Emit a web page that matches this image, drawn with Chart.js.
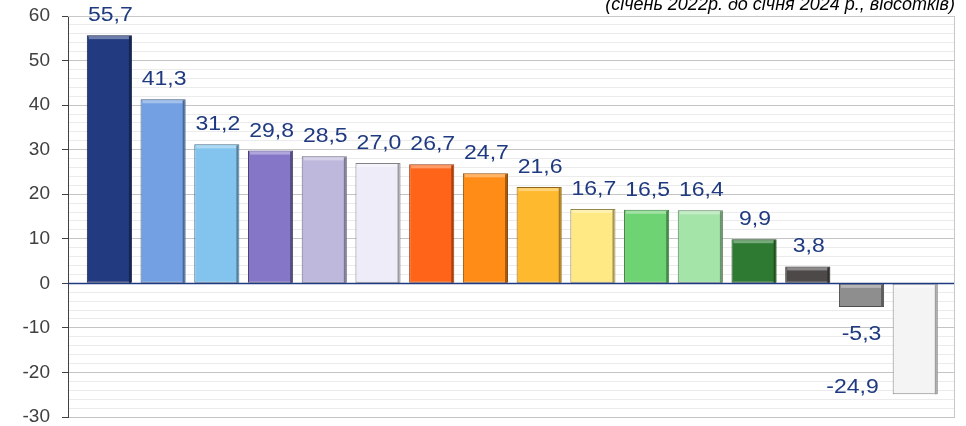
<!DOCTYPE html>
<html>
<head>
<meta charset="utf-8">
<script src="https://cdn.jsdelivr.net/npm/chart.js@4/dist/chart.umd.min.js"></script>
<style>
  html, body { margin: 0; padding: 0; background: #fff; }
  #wrap { width: 966px; height: 426px; }
</style>
</head>
<body>
<div id="wrap"><canvas id="myChart"></canvas></div>
<script>
// значення (відсотки)
const values = [55.7, 41.3, 31.2, 29.8, 28.5, 27.0, 26.7, 24.7, 21.6, 16.7, 16.5, 16.4, 9.9, 3.8, -5.3, -24.9];
const barColors = ['#213a80', '#72a0e2', '#83c4ee', '#8576c8', '#bfb8dd', '#eeecf8', '#ff6418', '#ff8c16', '#ffb92e',
  '#ffe985', '#6dd373', '#a4e4a8', '#2e7a33', '#4d4949', '#8e8e8e', '#f4f4f4'];
const yTicksMin = -30;
const yTicksMax = 60;
const subtitle = '(січень 2022р. до січня 2024 р., відсотків)';

const FONT = '"Liberation Sans", Arial, sans-serif';

function shade(hex, k) {
  const n = parseInt(hex.slice(1), 16);
  let r = n >> 16, g = (n >> 8) & 255, b = n & 255;
  if (k < 0) { r = r * (1 + k); g = g * (1 + k); b = b * (1 + k); }
  else { r = r + (255 - r) * k; g = g + (255 - g) * k; b = b + (255 - b) * k; }
  return `rgb(${Math.round(r)},${Math.round(g)},${Math.round(b)})`;
}

// text a bit wider than the font, like in the original picture
function wideText(ctx, txt, x, y, align) {
  const sx = 1.15;
  const w = ctx.measureText(txt).width * sx;
  let left = x;
  if (align === 'center') left = x - w / 2;
  if (align === 'right') left = x - w;
  ctx.save();
  ctx.translate(left, y);
  ctx.scale(sx, 1);
  ctx.textAlign = 'left';
  ctx.fillText(txt, 0, 0);
  ctx.restore();
}

const extras = {
  id: 'extras',
  afterDatasetsDraw(chart) {
    const { ctx, chartArea: a, scales: { y } } = chart;
    const meta = chart.getDatasetMeta(0);
    ctx.save();
    // bevel: light strip on top, dark strip on the right
    meta.data.forEach((bar, i) => {
      const left = bar.x - bar.width / 2, right = bar.x + bar.width / 2;
      const top = Math.min(bar.y, bar.base);
      ctx.fillStyle = shade(barColors[i], 0.35);
      ctx.fillRect(left + 2, top + 1, right - left - 4, 3);
      ctx.fillStyle = shade(barColors[i], -0.35);
      ctx.fillRect(right - 3, top + 1, 2, Math.abs(bar.base - bar.y) - 1);
    });
    // zero line
    const y0 = Math.round(y.getPixelForValue(0)) + 0.5;
    ctx.strokeStyle = '#1f3a80';
    ctx.lineWidth = 1.5;
    ctx.beginPath();
    ctx.moveTo(a.left, y0);
    ctx.lineTo(a.right, y0);
    ctx.stroke();
    // frame top/right
    ctx.strokeStyle = '#c8c8c8';
    ctx.lineWidth = 1;
    ctx.beginPath();
    ctx.moveTo(a.left, a.top + 0.5);
    ctx.lineTo(a.right - 0.5, a.top + 0.5);
    ctx.lineTo(a.right - 0.5, a.bottom);
    ctx.stroke();
    // value labels
    ctx.font = '20px ' + FONT;
    ctx.fillStyle = '#1f3a80';
    ctx.textBaseline = 'alphabetic';
    meta.data.forEach((bar, i) => {
      const v = values[i];
      const txt = v.toFixed(1).replace('.', ',');
      const left = bar.x - bar.width / 2;
      if (v >= 0) {
        wideText(ctx, txt, bar.x + 1, bar.y - 14, 'center');
      } else if (bar.y + 19 + 16 < a.bottom) {
        wideText(ctx, txt, bar.x, bar.y + 33, 'center');
      } else {
        wideText(ctx, txt, left - 14, bar.y - 1, 'right');
      }
    });
    // subtitle, cut at the top edge
    ctx.font = 'italic 18px ' + FONT;
    ctx.fillStyle = '#000';
    ctx.textAlign = 'right';
    ctx.fillText(subtitle, a.right, 10);
    ctx.restore();
  }
};

const ctx = document.getElementById('myChart');
new Chart(ctx, {
  type: 'bar',
  data: {
    datasets: [{
      data: values.map((v, i) => ({ x: i, y: v })),
      backgroundColor: barColors,
      borderColor: barColors.map(c => shade(c, -0.45)),
      borderWidth: 1,
      borderSkipped: false,
      barPercentage: 0.84,
      categoryPercentage: 1
    }]
  },
  options: {
    responsive: true,
    maintainAspectRatio: false,
    animation: false,
    layout: { padding: { top: 16, right: 11, bottom: 9, left: 0 } },
    plugins: { legend: { display: false }, tooltip: { enabled: false } },
    scales: {
      x: {
        type: 'linear',
        display: false,
        offset: false,
        min: -0.77,
        max: 15.74,
        ticks: { stepSize: 1 }
      },
      y: {
        min: yTicksMin,
        max: yTicksMax,
        afterFit: s => { s.width = 68; s.paddingTop = 0; s.paddingBottom = 0; },
        ticks: {
          stepSize: 2,
          autoSkip: false,
          padding: 12,
          color: '#404040',
          font: { size: 19, family: FONT },
          callback: v => (v % 10 === 0 ? v : '')
        },
        grid: {
          tickLength: 6,
          color: c => (c.tick.value === 0 ? 'transparent' : (c.tick.value % 10 === 0 ? '#c4c4c4' : '#ebebeb')),
          tickColor: c => (c.tick.value % 10 === 0 ? '#404040' : 'transparent')
        },
        border: { color: '#404040', width: 1 }
      }
    }
  },
  plugins: [extras]
});
</script>
</body>
</html>
